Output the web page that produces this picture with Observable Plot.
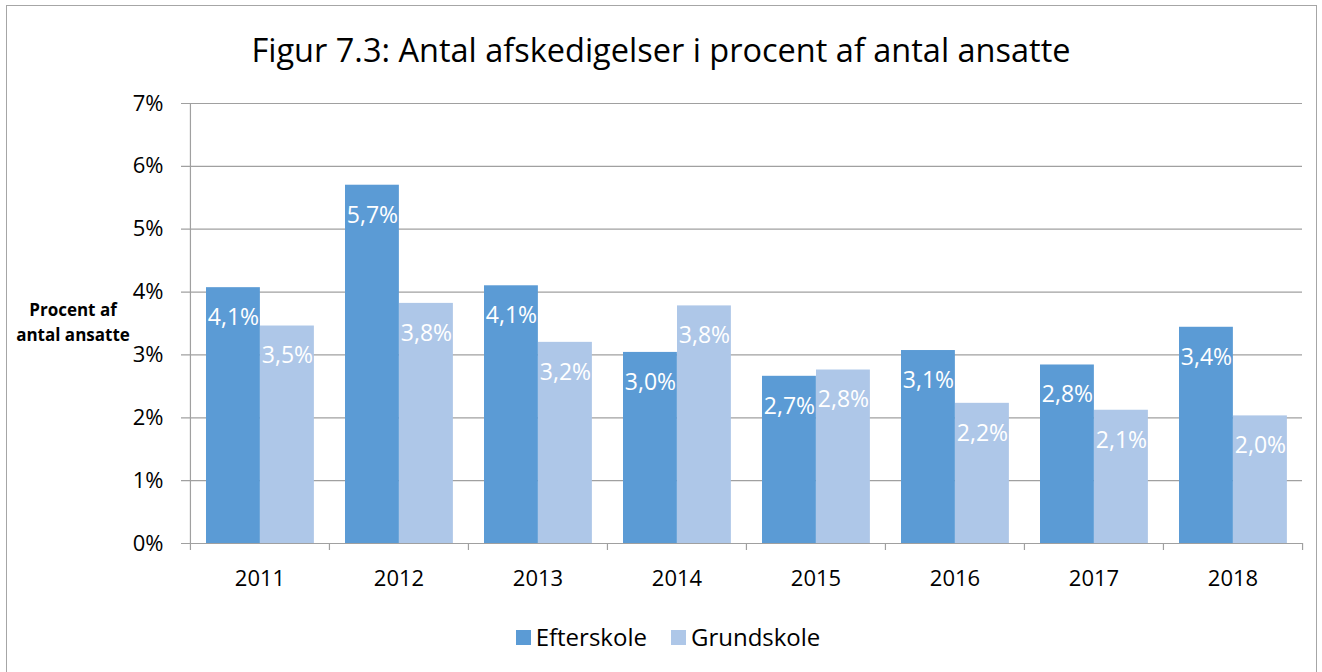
<!DOCTYPE html>
<html>
<head>
<meta charset="utf-8">
<script src="https://cdn.jsdelivr.net/npm/d3@7"></script>
<script src="https://cdn.jsdelivr.net/npm/@observablehq/plot@0.6"></script>
<style>
  html, body { margin: 0; padding: 0; background: #fff; }
  body { font-family: "Open Sans", "Noto Sans", sans-serif; color: #000; }
  #wrap { position: relative; width: 1322px; height: 672px; overflow: hidden; }
  #border { position: absolute; left: 6px; top: 5px; width: 1311px; height: 700px; border: 1px solid #a6a6a6; box-sizing: border-box; }
  #title { position: absolute; left: 0; width: 1322px; top: 28px; text-align: center; font-size: 32.5px; line-height: 44px; }
  #ylabel { position: absolute; left: 8px; width: 130px; top: 297px; text-align: center; font-weight: bold; font-size: 17px; line-height: 25px; }
  #chart { position: absolute; left: 0; top: 0; }
  #legend { position: absolute; left: 7px; width: 1322px; top: 621px; display: flex; justify-content: center; align-items: center; font-size: 24px; line-height: 32px; }
  .sw { display: inline-block; width: 15px; height: 15px; margin-right: 5px; }
  .item { display: inline-flex; align-items: center; margin: 0 12px; }
</style>
</head>
<body>
<div id="wrap">
  <div id="border"></div>
  <div id="chart"></div>
  <div id="title">Figur 7.3: Antal afskedigelser i procent af antal ansatte</div>
  <div id="ylabel">Procent af<br>antal ansatte</div>
  <div id="legend"></div>
</div>
<script>
const years = ["2011", "2012", "2013", "2014", "2015", "2016", "2017", "2018"];
const seriesNames = ["Efterskole", "Grundskole"];
const efterskole = [4.07, 5.70, 4.10, 3.04, 2.66, 3.07, 2.84, 3.44];
const grundskole = [3.46, 3.82, 3.20, 3.78, 2.76, 2.23, 2.12, 2.03];
const yTicks = [0, 1, 2, 3, 4, 5, 6, 7];
const colors = ["#5B9BD5", "#AEC7E8"];

const W = 1322, H = 600;
const mL = 189, mR = 20, mT = 103, mB = 57;
const step = (W - mL - mR) / years.length;

const eData = years.map((y, i) => ({year: y, value: efterskole[i]}));
const gData = years.map((y, i) => ({year: y, value: grundskole[i]}));
const fmt = d => d.value.toFixed(1).replace(".", ",") + "%";

const font = "'Open Sans', 'Noto Sans', sans-serif";

const chart = Plot.plot({
  width: W,
  height: H,
  marginLeft: mL,
  marginRight: mR,
  marginTop: mT,
  marginBottom: mB,
  style: {fontFamily: font, fontSize: "22px", color: "#000", background: "transparent", overflow: "visible"},
  x: {domain: years, padding: 0, axis: null, label: null},
  y: {domain: [0, 7], axis: null, label: null},
  marks: [
    Plot.ruleY(yTicks, {y: d => d, stroke: "#a0a0a0", strokeWidth: 1.2, insetLeft: -8}),
    Plot.ruleX([years[0]], {x: d => d, dx: -step / 2, stroke: "#a0a0a0", strokeWidth: 1.2}),
    Plot.axisX(years, {tickSize: 7, text: null, label: null, dx: -step / 2, stroke: "#a0a0a0", strokeWidth: 1.2}),
    Plot.axisX([years[years.length - 1]], {tickSize: 7, text: null, label: null, dx: step / 2, stroke: "#a0a0a0", strokeWidth: 1.2}),
    Plot.axisX(years, {tickSize: 0, tickPadding: 27, fontSize: 22, fill: "#000", label: null}),
    Plot.axisY(yTicks, {tickSize: 0, tickPadding: 26, fontSize: 22, fill: "#000", label: null, tickFormat: d => d + "%"}),
    Plot.barY(eData, {x: "year", y: "value", fill: colors[0], insetLeft: 16, insetRight: step - 70}),
    Plot.barY(gData, {x: "year", y: "value", fill: colors[1], insetLeft: 70, insetRight: step - 124}),
    Plot.text(eData, {x: "year", y: "value", text: fmt, fill: "#fff", fontSize: 23, dx: 43 - step / 2, dy: 30}),
    Plot.text(gData, {x: "year", y: "value", text: fmt, fill: "#fff", fontSize: 23, dx: 97 - step / 2, dy: 30})
  ]
});
document.getElementById("chart").appendChild(chart);

const legend = document.getElementById("legend");
seriesNames.forEach((name, i) => {
  const item = document.createElement("span");
  item.className = "item";
  const sw = document.createElement("span");
  sw.className = "sw";
  sw.style.background = colors[i];
  item.appendChild(sw);
  item.appendChild(document.createTextNode(name));
  legend.appendChild(item);
});
</script>
</body>
</html>
